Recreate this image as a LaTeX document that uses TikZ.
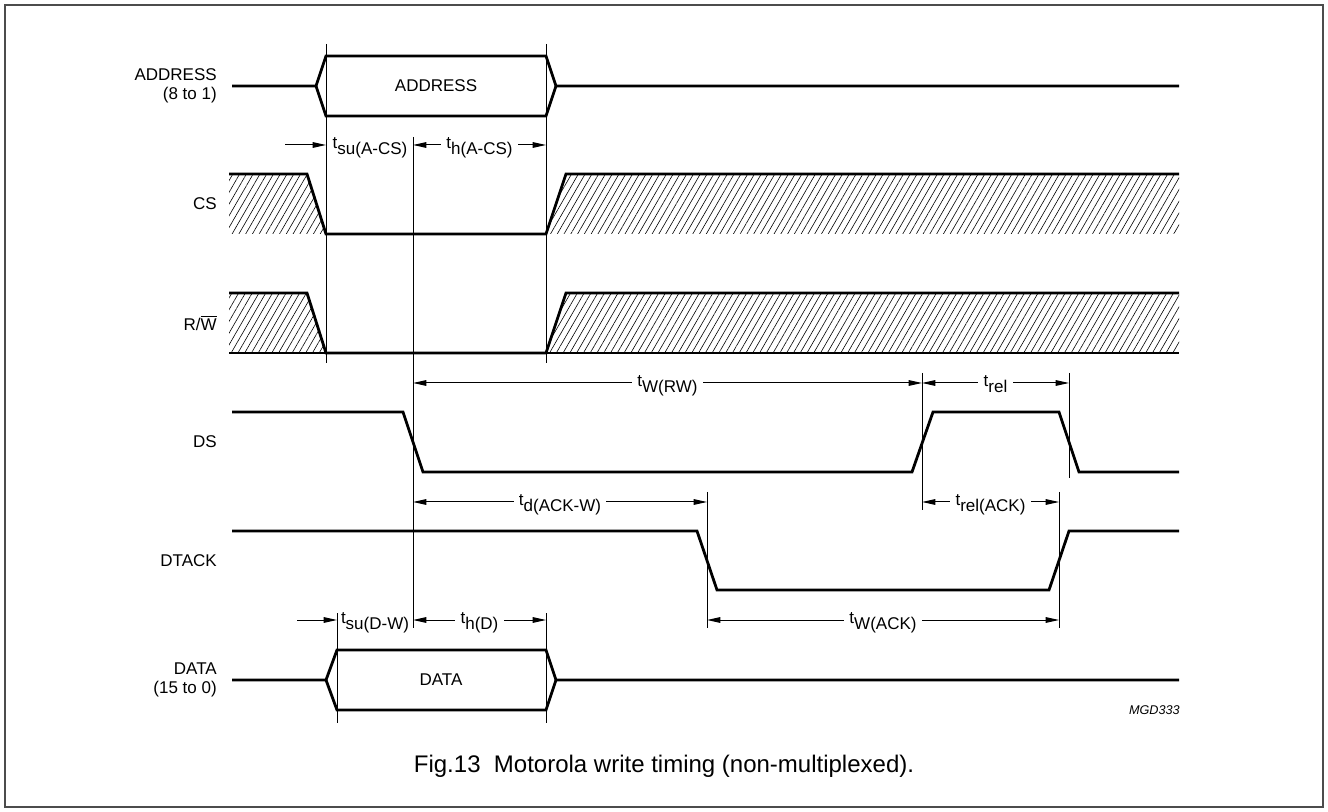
\documentclass[tikz,border=0pt]{standalone}
\usepackage{fontspec}
\setmainfont{Liberation Sans}
\usetikzlibrary{arrows.meta,patterns.meta}
\newcommand{\tsub}[1]{t\raisebox{-5pt}{#1}}
\tikzset{
  sig/.style={line width=2.1pt},
  refline/.style={line width=0.75pt},
  dim/.style={line width=0.75pt,{Triangle[length=10pt,width=4.2pt]}-{Triangle[length=10pt,width=4.2pt]}},
  dimto/.style={line width=0.75pt,-{Triangle[length=10pt,width=4.2pt]}},
  hatch/.style={pattern={Lines[angle=60,distance=4.4pt,line width=0.45pt]}},
  siglabel/.style={anchor=east,align=right,inner sep=0pt},
  tlabel/.style={midway,anchor=base,yshift=-2.5pt,fill=white,inner xsep=4pt,inner ysep=1pt},
  tnote/.style={anchor=base,yshift=-2.5pt,inner sep=0pt}
}
\begin{document}
\begin{tikzpicture}[x=0.75pt,y=-0.75pt,every node/.style={font=\fontsize{12.75}{14.5}\selectfont}]
  \useasboundingbox (0,0) rectangle (1328,812);
  \draw[line width=1.5pt,black!70] (5,5) rectangle (1323,807);

  \node[siglabel] (lAddr) at (217,86) {ADDRESS\\(8 to 1)};
  \node[siglabel] (lCS)   at (217,204) {CS};
  \node[siglabel] (lRW)   at (217,323) {R/$\overline{\mbox{W}}$};
  \node[siglabel] (lDS)   at (217,442) {DS};
  \node[siglabel] (lDT)   at (217,561) {DTACK};
  \node[siglabel] (lData) at (217,680) {DATA\\(15 to 0)};

  % address bus
  \draw[sig] (232,86) -- (316,86) -- (326,56) -- (546,56) -- (556,86) -- (1179,86);
  \draw[sig] (316,86) -- (326,116) -- (546,116) -- (556,86);
  \node (bAddr) at (436,86) {ADDRESS};

  % CS and R/W
  \fill[hatch] (229,174) -- (307,174) -- (326,234) -- (229,234) -- cycle;
  \fill[hatch] (546,234) -- (566,174) -- (1179,174) -- (1179,234) -- cycle;
  \draw[sig] (229,174) -- (307,174) -- (326,234) -- (546,234) -- (566,174) -- (1179,174);
  \fill[hatch] (229,293) -- (307,293) -- (326,353) -- (229,353) -- cycle;
  \fill[hatch] (546,353) -- (566,293) -- (1179,293) -- (1179,353) -- cycle;
  \draw[sig] (229,293) -- (307,293) -- (326,353) -- (546,353) -- (566,293) -- (1179,293);
  \draw[sig] (229,353) -- (1179,353);

  % DS, DTACK
  \draw[sig] (232,412) -- (403,412) -- (423,472) -- (912,472) -- (933,412) -- (1059,412) -- (1079,472) -- (1179,472);
  \draw[sig] (232,531) -- (697,531) -- (717,590) -- (1049,590) -- (1069,531) -- (1179,531);

  % data bus
  \draw[sig] (232,680) -- (326,680) -- (337,650) -- (546,650) -- (556,680) -- (1179,680);
  \draw[sig] (326,680) -- (337,710) -- (546,710) -- (556,680);
  \node (bData) at (441,680) {DATA};

  % reference lines
  \coordinate (csF)  at (326,44);  \coordinate (csFb) at (326,363);
  \coordinate (csR)  at (546,44);  \coordinate (csRb) at (546,363);
  \coordinate (dsF)  at (413,137); \coordinate (dsFb) at (413,628);
  \coordinate (dsR)  at (922,373); \coordinate (dsRb) at (922,510);
  \coordinate (dsE)  at (1069,373);\coordinate (dsEb) at (1069,478);
  \coordinate (akF)  at (707,492); \coordinate (akFb) at (707,628);
  \coordinate (akR)  at (1059,492);\coordinate (akRb) at (1059,628);
  \coordinate (daF)  at (337,613); \coordinate (daFb) at (337,723);
  \coordinate (daR)  at (546,613); \coordinate (daRb) at (546,723);
  \foreach \a/\b in {csF/csFb,csR/csRb,dsF/dsFb,dsR/dsRb,dsE/dsEb,akF/akFb,akR/akRb,daF/daFb,daR/daRb}
    \draw[refline] (\a) -- (\b);

  % timing arrows
  \coordinate (yA) at (0,145);
  \coordinate (yB) at (0,383);
  \coordinate (yC) at (0,502);
  \coordinate (yD) at (0,620);
  \coordinate (suA) at (285,145);
  \coordinate (suD) at (297,620);
  \draw[dimto] (suA) -- (csF |- yA);
  \node[tnote] (tsuA) at (370,145) {\tsub{su(A-CS)}};
  \draw[dim] (dsF |- yA) -- (csR |- yA) node[tlabel] (thA) {\tsub{h(A-CS)}};
  \draw[dim] (dsF |- yB) -- (dsR |- yB) node[tlabel] (tWRW) {\tsub{W(RW)}};
  \draw[dim] (dsR |- yB) -- (dsE |- yB) node[tlabel] (trel) {\tsub{rel}};
  \draw[dim] (dsF |- yC) -- (akF |- yC) node[tlabel] (tdAck) {\tsub{d(ACK-W)}};
  \draw[dim] (dsR |- yC) -- (akR |- yC) node[tlabel] (trelAck) {\tsub{rel(ACK)}};
  \draw[dim] (akF |- yD) -- (akR |- yD) node[tlabel] (tWAck) {\tsub{W(ACK)}};
  \draw[dimto] (suD) -- (daF |- yD);
  \node[tnote] (tsuD) at (375,620) {\tsub{su(D-W)}};
  \draw[dim] (dsF |- yD) -- (daR |- yD) node[tlabel] (thD) {\tsub{h(D)}};

  \node[anchor=east,inner sep=0pt,font=\fontsize{9.5}{11}\selectfont\itshape] (code) at (1180,710) {MGD333};
  \node (cap) at (664,766) {\fontsize{18}{20}\selectfont Fig.13\ \ Motorola write timing (non-multiplexed).};
\end{tikzpicture}
\end{document}
